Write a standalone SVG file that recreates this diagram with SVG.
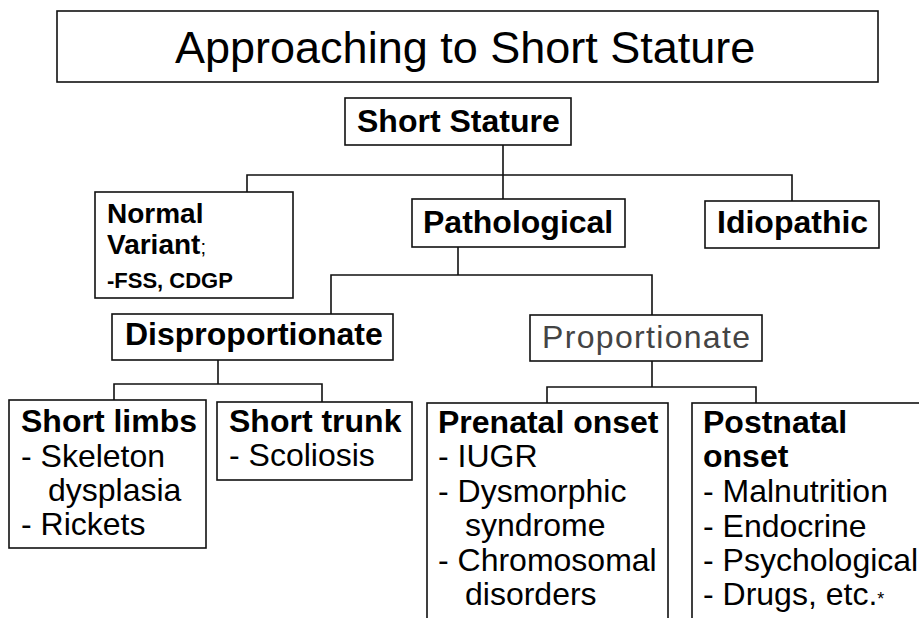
<svg xmlns="http://www.w3.org/2000/svg" width="919" height="618" viewBox="0 0 919 618">
<style>
.box{fill:#fff;stroke:#111;stroke-width:1.6}
.ln{fill:none;stroke:#111;stroke-width:1.6}
.t{font-family:"Liberation Sans",Arial,sans-serif;fill:#000}
.b{font-weight:bold;font-size:32px}
.r{font-size:32px}
</style>
<rect width="919" height="618" fill="#fff"/>
<g id="title">
<rect class="box" x="57" y="11" width="821" height="71"/>
<text class="t" x="175" y="63" font-size="45">Approaching to Short Stature</text>
</g>
<g id="connectors">
<path class="ln" d="M503 145V200M247 192V175H792V202"/>
<path class="ln" d="M458 247V275M331 314V275H652V315"/>
<path class="ln" d="M218 360V384M114 400V384H322V402"/>
<path class="ln" d="M652 361V387M547 403V387H756V403"/>
</g>
<g id="short-stature">
<rect class="box" x="345" y="98" width="226" height="47"/>
<text class="t b" x="357" y="132">Short Stature</text>
</g>
<g id="normal-variant">
<rect class="box" x="95" y="192" width="198" height="106"/>
<text class="t" font-weight="bold" font-size="28" x="107" y="223">Normal</text>
<text class="t" font-weight="bold" font-size="28" x="107" y="254">Variant<tspan font-size="20" font-weight="normal">;</tspan></text>
<text class="t" font-weight="bold" font-size="22" x="107" y="288">-FSS, CDGP</text>
</g>
<g id="pathological">
<rect class="box" x="412" y="199" width="213" height="48"/>
<text class="t b" x="423" y="233">Pathological</text>
</g>
<g id="idiopathic">
<rect class="box" x="705" y="201" width="174" height="47"/>
<text class="t b" x="717" y="233">Idiopathic</text>
</g>
<g id="disproportionate">
<rect class="box" x="112" y="314" width="281" height="46"/>
<text class="t b" x="125" y="345">Disproportionate</text>
</g>
<g id="proportionate">
<rect class="box" x="530" y="315" width="232" height="46"/>
<text class="t r" x="542" y="348" style="fill:#444" textLength="208" lengthAdjust="spacing">Proportionate</text>
</g>
<g id="short-limbs">
<rect class="box" x="9" y="400" width="197" height="148"/>
<text class="t b" x="21" y="432">Short limbs</text>
<text class="t r" x="21" y="467">- Skeleton</text>
<text class="t r" x="48" y="501">dysplasia</text>
<text class="t r" x="21" y="535">- Rickets</text>
</g>
<g id="short-trunk">
<rect class="box" x="217" y="402" width="195" height="78"/>
<text class="t b" x="229" y="432">Short trunk</text>
<text class="t r" x="229" y="466">- Scoliosis</text>
</g>
<g id="prenatal">
<rect class="box" x="427" y="403" width="241" height="230"/>
<text class="t b" x="438" y="433">Prenatal onset</text>
<text class="t r" x="438" y="467">- IUGR</text>
<text class="t r" x="438" y="502">- Dysmorphic</text>
<text class="t r" x="465" y="536">syndrome</text>
<text class="t r" x="438" y="571">- Chromosomal</text>
<text class="t r" x="465" y="605">disorders</text>
</g>
<g id="postnatal">
<rect class="box" x="692" y="403" width="240" height="230"/>
<text class="t b" x="703" y="433">Postnatal</text>
<text class="t b" x="703" y="467">onset</text>
<text class="t r" x="703" y="502">- Malnutrition</text>
<text class="t r" x="703" y="537">- Endocrine</text>
<text class="t r" x="703" y="571">- Psychological</text>
<text class="t r" x="703" y="605">- Drugs, etc.<tspan font-size="18">*</tspan></text>
</g>
</svg>
